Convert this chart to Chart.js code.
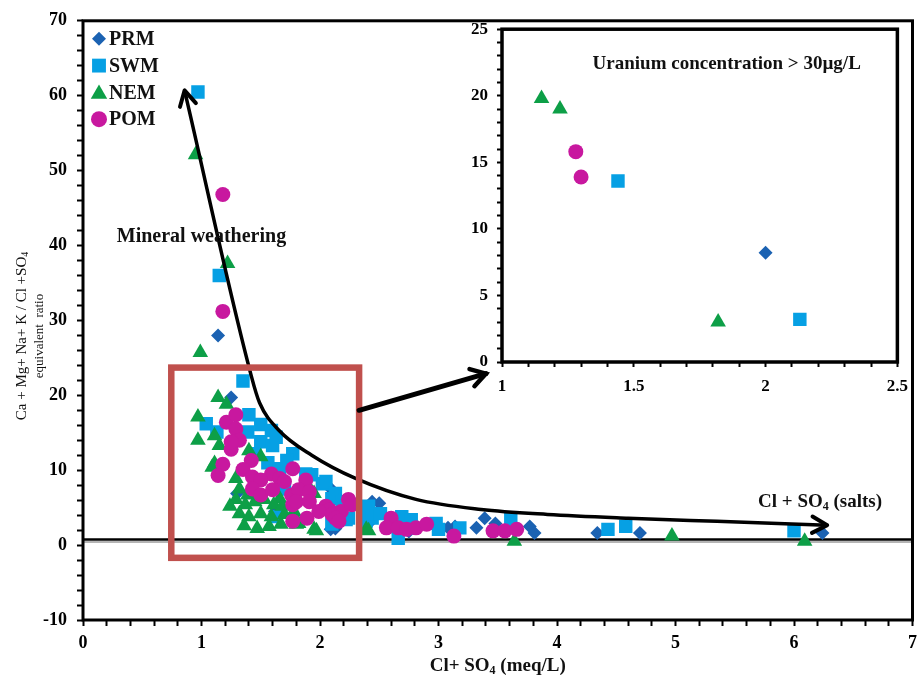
<!DOCTYPE html>
<html>
<head>
<meta charset="utf-8">
<script src="https://cdn.jsdelivr.net/npm/chart.js@4.4.0/dist/chart.umd.min.js"></script>
<style>
  html, body { margin: 0; padding: 0; background: #fff; }
  #wrap { position: relative; width: 924px; height: 681px; }
  #main { position: absolute; left: 0; top: 0; }
  #inset { position: absolute; left: 450px; top: 10px; }
</style>
</head>
<body>
<div id="wrap">
  <canvas id="main" width="924" height="681"></canvas>
  <canvas id="inset" width="467" height="395"></canvas>
</div>
<script>
// series names and their look
const seriesNames = ['PRM', 'SWM', 'NEM', 'POM'];
const seriesColors = ['#1b62b2', '#06a0e4', '#0d9f47', '#c8189f'];
const seriesStyles = ['rectRot', 'rect', 'triangle', 'circle'];
const seriesRadius = [7, 9.5, 9, 7.5];

// main plot: [Cl+SO4, ratio]
const prmPoints = [
  [1.14, 28.0], [1.25, 19.7], [1.30, 6.9], [1.62, 4.5], [2.09, 2.1], [2.13, 2.2], [2.10, 7.4],
  [2.36, 5.0], [2.41, 2.9], [2.44, 5.8], [2.50, 5.6], [2.75, 1.8], [3.08, 2.3], [3.14, 2.5],
  [3.32, 2.3], [3.39, 3.6], [3.48, 2.9], [3.77, 2.5], [3.81, 1.6], [4.34, 1.6], [4.70, 1.6],
  [6.24, 1.6]
];
const swmPoints = [
  [0.97, 60.5], [1.15, 36.0], [1.35, 21.9], [1.04, 16.2], [1.13, 15.1], [1.40, 17.4], [1.50, 16.1],
  [1.59, 15.3], [1.39, 15.1], [1.50, 13.8], [1.60, 13.3], [1.63, 14.4], [1.45, 12.2], [1.56, 11.0],
  [1.77, 12.2], [1.72, 11.3], [1.66, 10.2], [1.88, 9.5], [1.93, 9.4], [2.02, 8.2], [2.05, 8.5],
  [1.70, 7.5], [2.13, 6.9], [2.10, 6.2], [2.19, 5.8], [2.24, 3.6], [2.22, 3.4], [2.10, 2.8],
  [1.63, 3.8], [2.39, 3.2], [2.41, 5.2], [2.40, 4.9], [2.44, 3.6], [2.51, 4.2], [2.63, 2.8],
  [2.66, 0.9], [2.69, 3.8], [2.77, 3.4], [2.98, 2.9], [3.00, 2.1], [3.18, 2.3], [3.61, 3.4],
  [4.43, 2.1], [4.58, 2.5], [6.00, 1.9]
];
const nemPoints = [
  [0.95, 52.1], [1.22, 37.6], [0.99, 25.7], [1.14, 19.7], [1.21, 18.8], [0.97, 17.1], [0.97, 14.0],
  [1.11, 14.6], [1.15, 13.3], [1.40, 12.6], [1.50, 11.8], [1.11, 10.9], [1.09, 10.4], [1.29, 8.9],
  [1.32, 7.5], [1.39, 6.7], [1.66, 6.2], [1.95, 6.9], [1.93, 7.1], [1.29, 6.1], [1.37, 5.4],
  [1.45, 5.8], [1.53, 6.1], [1.61, 5.4], [1.68, 5.2], [1.24, 5.2], [1.32, 4.2], [1.40, 3.8],
  [1.50, 4.2], [1.59, 3.8], [1.70, 4.1], [1.78, 4.5], [1.36, 2.6], [1.47, 2.2], [1.57, 2.5],
  [1.67, 2.8], [1.82, 2.9], [1.80, 2.8], [1.95, 2.1], [1.97, 1.9], [2.39, 2.1], [2.41, 1.9],
  [3.64, 0.5], [4.97, 1.2], [6.09, 0.5]
];
const pomPoints = [
  [1.18, 46.8], [1.18, 31.2], [1.21, 16.4], [1.29, 17.4], [1.29, 15.5], [1.32, 14.0], [1.25, 12.8],
  [1.25, 13.8], [1.42, 11.3], [1.18, 10.8], [1.14, 9.3], [1.35, 10.1], [1.77, 10.2], [1.59, 9.5],
  [1.43, 9.1], [1.50, 8.7], [1.66, 8.9], [1.70, 8.5], [1.88, 8.7], [1.43, 7.5], [1.50, 6.7],
  [1.60, 7.4], [1.76, 6.7], [1.82, 7.4], [1.91, 7.1], [1.77, 5.4], [1.80, 5.8], [1.91, 5.8],
  [2.26, 5.6], [2.24, 6.1], [2.05, 5.2], [2.08, 4.7], [2.18, 4.5], [2.10, 4.1], [1.99, 4.5],
  [1.89, 3.6], [1.77, 3.2], [2.13, 3.6], [2.16, 3.2], [2.27, 5.4], [2.60, 3.6], [2.56, 2.3],
  [2.66, 2.3], [2.73, 2.1], [2.81, 2.3], [2.90, 2.8], [3.13, 1.2], [3.46, 1.9], [3.56, 1.9],
  [3.66, 2.1]
];

// inset: uranium concentration > 30 µg/L
const prmInset = [[2.00, 8.2]];
const swmInset = [[1.44, 13.6], [2.13, 3.2]];
const nemInset = [[1.15, 19.8], [1.22, 19.0], [1.82, 3.0]];
const pomInset = [[1.28, 15.8], [1.30, 13.9]];

// hand-drawn trend arrow (data units)
const weatheringCurve = [
  [0.857, 60.7], [1.42, 22.6], [1.49, 19.0], [1.655, 15.3], [1.93, 12.0], [2.30, 8.9],
  [2.81, 6.1], [3.36, 4.76], [3.92, 4.1], [4.6, 3.6], [5.35, 3.17], [6.28, 2.65]
];
const ratioLineY = 0.75;
const zoomBox = { x0: 0.745, x1: 2.33, y0: 23.7, y1: -1.7 };
const zoomArrow = [[2.33, 18.0], [3.40, 22.9]];

const serif = '"Liberation Serif", "Times New Roman", serif';

function toXY(arr) {
  return arr.map(p => ({ x: p[0], y: p[1] }));
}

function makeSets(lists) {
  const order = [3, 2, 1, 0]; // POM on top, like the original
  return lists.map((list, i) => ({
    type: 'scatter',
    label: seriesNames[i],
    data: toXY(list),
    pointStyle: seriesStyles[i],
    pointRadius: seriesRadius[i],
    pointBackgroundColor: seriesColors[i],
    pointBorderWidth: 0,
    order: order[i]
  }));
}

function drawMarker(ctx, style, x, y, r, color) {
  ctx.fillStyle = color;
  ctx.beginPath();
  if (style === 'rectRot') {
    ctx.moveTo(x, y - r); ctx.lineTo(x + r, y); ctx.lineTo(x, y + r); ctx.lineTo(x - r, y);
    ctx.closePath();
  } else if (style === 'rect') {
    const s = r * Math.SQRT1_2;
    ctx.rect(x - s, y - s, 2 * s, 2 * s);
  } else if (style === 'triangle') {
    for (let i = 0; i < 3; i++) {
      const a = i * 2 * Math.PI / 3;
      const px = x + r * Math.sin(a), py = y - r * Math.cos(a);
      if (i === 0) ctx.moveTo(px, py); else ctx.lineTo(px, py);
    }
    ctx.closePath();
  } else {
    ctx.arc(x, y, r, 0, Math.PI * 2);
  }
  ctx.fill();
}

// text with subscripts: parts = [[text, isSub], ...]
function drawRich(ctx, parts, x, y, size, weight, align) {
  const big = weight + ' ' + size + 'px ' + serif;
  const small = weight + ' ' + Math.round(size * 0.65) + 'px ' + serif;
  let total = 0;
  parts.forEach(p => { ctx.font = p[1] ? small : big; total += ctx.measureText(p[0]).width; });
  let cx = align === 'center' ? x - total / 2 : x;
  ctx.textAlign = 'left';
  ctx.textBaseline = 'middle';
  parts.forEach(p => {
    ctx.font = p[1] ? small : big;
    ctx.fillText(p[0], cx, p[1] ? y + size * 0.25 : y);
    cx += ctx.measureText(p[0]).width;
  });
}

function arrowHead(ctx, fx, fy, tx, ty, len, half) {
  const ang = Math.atan2(ty - fy, tx - fx);
  ctx.beginPath();
  ctx.moveTo(tx - len * Math.cos(ang - half), ty - len * Math.sin(ang - half));
  ctx.lineTo(tx, ty);
  ctx.lineTo(tx - len * Math.cos(ang + half), ty - len * Math.sin(ang + half));
  ctx.stroke();
}

const mainDecor = {
  id: 'mainDecor',
  beforeDatasetsDraw(chart) {
    const ctx = chart.ctx, a = chart.chartArea;
    const y = chart.scales.y.getPixelForValue(ratioLineY);
    ctx.save();
    ctx.strokeStyle = '#b5b5b5';
    ctx.lineWidth = 2;
    ctx.beginPath(); ctx.moveTo(a.left, y + 2.5); ctx.lineTo(a.right, y + 2.5); ctx.stroke();
    ctx.strokeStyle = '#000';
    ctx.lineWidth = 2.5;
    ctx.beginPath(); ctx.moveTo(a.left, y); ctx.lineTo(a.right, y); ctx.stroke();
    ctx.restore();
  },
  afterDatasetsDraw(chart) {
    const ctx = chart.ctx;
    const xs = chart.scales.x, ys = chart.scales.y;
    const px = v => xs.getPixelForValue(v), py = v => ys.getPixelForValue(v);
    ctx.save();
    ctx.lineCap = 'round';
    ctx.lineJoin = 'round';
    ctx.strokeStyle = '#000';
    ctx.lineWidth = 4;
    const c = weatheringCurve, n = c.length;
    arrowHead(ctx, px(c[1][0]), py(c[1][1]), px(c[0][0]), py(c[0][1]), 17, 0.5);
    arrowHead(ctx, px(c[n - 2][0]), py(c[n - 2][1]), px(c[n - 1][0]), py(c[n - 1][1]), 17, 0.5);

    // red zoom box
    ctx.strokeStyle = '#c0504d';
    ctx.lineWidth = 6.5;
    ctx.lineCap = 'butt';
    ctx.lineJoin = 'miter';
    ctx.strokeRect(px(zoomBox.x0), py(zoomBox.y0), px(zoomBox.x1) - px(zoomBox.x0), py(zoomBox.y1) - py(zoomBox.y0));

    // arrow to inset
    ctx.strokeStyle = '#000';
    ctx.lineWidth = 5;
    ctx.lineCap = 'round';
    const [s, e] = zoomArrow;
    ctx.beginPath(); ctx.moveTo(px(s[0]), py(s[1])); ctx.lineTo(px(e[0]), py(e[1])); ctx.stroke();
    ctx.lineWidth = 4.5;
    arrowHead(ctx, px(s[0]), py(s[1]), px(e[0]), py(e[1]), 17, 0.55);
    ctx.restore();
  },
  afterDraw(chart) {
    const ctx = chart.ctx, a = chart.chartArea;
    const xs = chart.scales.x, ys = chart.scales.y;
    ctx.save();
    ctx.strokeStyle = '#000';
    ctx.lineWidth = 3;
    ctx.strokeRect(a.left, a.top, a.right - a.left, a.bottom - a.top);

    ctx.fillStyle = '#111';
    ctx.font = 'bold 20px ' + serif;
    ctx.textAlign = 'left';
    ctx.textBaseline = 'middle';
    ctx.fillText('Mineral weathering', xs.getPixelForValue(0.285), ys.getPixelForValue(41.1));
    drawRich(ctx, [['Cl + SO', false], ['4', true], [' (salts)', false]],
      xs.getPixelForValue(6.22), ys.getPixelForValue(5.8), 19, 'bold', 'center');

    // legend inside the plot, top left
    seriesNames.forEach((name, i) => {
      const y = a.top + 18 + i * 26.8;
      const r = [7, 9.8, 9.5, 8][i];
      drawMarker(ctx, seriesStyles[i], a.left + 16, y + (i === 2 ? 1.5 : 0), r, seriesColors[i]);
      ctx.fillStyle = '#111';
      ctx.font = 'bold 20px ' + serif;
      ctx.textAlign = 'left';
      ctx.textBaseline = 'middle';
      ctx.fillText(name, a.left + 26, y + 1);
    });

    // axis titles
    ctx.fillStyle = '#111';
    drawRich(ctx, [['Cl+ SO', false], ['4', true], [' (meq/L)', false]],
      (a.left + a.right) / 2, 666, 19, 'bold', 'center');
    ctx.translate(22, 336);
    ctx.rotate(-Math.PI / 2);
    drawRich(ctx, [['Ca + Mg+ Na+ K / Cl +SO', false], ['4', true]], 0, 0, 15, 'normal', 'center');
    ctx.rotate(Math.PI / 2);
    ctx.translate(18, 0);
    ctx.rotate(-Math.PI / 2);
    drawRich(ctx, [['equivalent  ratio', false]], 0, 0, 13, 'normal', 'center');
    ctx.restore();
  }
};

function axisOpts(min, max, step, every, opts) {
  return {
    type: 'linear',
    min: min,
    max: max,
    grid: { drawOnChartArea: false, drawTicks: true, tickLength: opts.tickLength, tickColor: '#000', tickWidth: 2 },
    border: { display: false },
    ticks: {
      stepSize: step,
      maxTicksLimit: 200,
      autoSkip: false,
      maxRotation: 0,
      padding: opts.padding,
      color: '#000',
      font: { family: serif, size: opts.size, weight: 'bold' },
      callback: v => {
        const k = v / every;
        return Math.abs(k - Math.round(k)) < 1e-6 ? String(Math.round(v * 10) / 10) : '';
      }
    },
    afterFit: opts.fit
  };
}

new Chart(document.getElementById('main'), {
  type: 'scatter',
  data: {
    datasets: makeSets([prmPoints, swmPoints, nemPoints, pomPoints]).concat([{
      type: 'line',
      label: 'trend',
      data: toXY(weatheringCurve),
      borderColor: '#000',
      borderWidth: 3.5,
      pointRadius: 0,
      fill: false,
      cubicInterpolationMode: 'monotone',
      order: -1
    }])
  },
  options: {
    responsive: false,
    animation: false,
    events: [],
    layout: { padding: { top: 16, right: 8, left: 0, bottom: 0 } },
    plugins: { legend: { display: false }, tooltip: { enabled: false } },
    scales: {
      x: axisOpts(0, 7, 0.2, 1, { tickLength: 6, padding: 7, size: 18, fit: s => { s.height = 61; } }),
      y: axisOpts(-10, 70, 2, 10, { tickLength: 6, padding: 10, size: 18, fit: s => { s.width = 83; } })
    }
  },
  plugins: [mainDecor]
});

const insetDecor = {
  id: 'insetDecor',
  afterDraw(chart) {
    const ctx = chart.ctx, a = chart.chartArea;
    ctx.save();
    ctx.strokeStyle = '#000';
    ctx.lineWidth = 3.5;
    ctx.strokeRect(a.left, a.top, a.right - a.left, a.bottom - a.top);
    ctx.fillStyle = '#111';
    ctx.font = 'bold 19px ' + serif;
    ctx.textAlign = 'center';
    ctx.textBaseline = 'middle';
    ctx.fillText('Uranium concentration > 30\u00b5g/L', (a.left + a.right) / 2 + 27, a.top + 35);
    ctx.restore();
  }
};

new Chart(document.getElementById('inset'), {
  type: 'scatter',
  data: { datasets: makeSets([prmInset, swmInset, nemInset, pomInset]) },
  options: {
    responsive: false,
    animation: false,
    events: [],
    layout: { padding: { top: 15, right: 17, left: 0, bottom: 0 } },
    plugins: { legend: { display: false }, tooltip: { enabled: false } },
    scales: {
      x: axisOpts(1, 2.5, 0.1, 0.5, { tickLength: 5, padding: 9, size: 17, fit: s => { s.height = 43; } }),
      y: axisOpts(0, 25, 1, 5, { tickLength: 5, padding: 9, size: 17, fit: s => { s.width = 52; } })
    }
  },
  plugins: [insetDecor]
});
</script>
</body>
</html>
